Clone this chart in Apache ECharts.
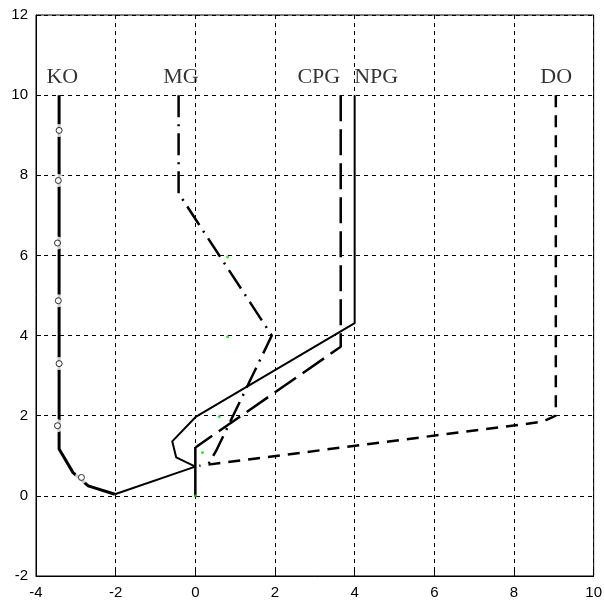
<!DOCTYPE html>
<html><head><meta charset="utf-8">
<script src="https://cdn.jsdelivr.net/npm/echarts@6/dist/echarts.min.js"></script>
<style>html,body{margin:0;padding:0;background:#fff}#c{width:605px;height:601px}</style>
</head><body><div id="c"></div>
<script>
// Paths (x, y)
const koPath = [[-3.42,10],[-3.42,1.17],[-3.07,0.58],[-2.69,0.25],[-2.02,0.04]];
const koMarkers = [[-3.42,9.12],[-3.44,7.87],[-3.46,6.31],[-3.44,4.87],[-3.42,3.3],[-3.46,1.75],[-2.86,0.46]];
const mgPath = [[-0.42,10],[-0.42,7.55],[1.92,4.0],[0.52,1.12],[0.32,0.78]];
const cpgPath = [[3.65,10],[3.65,3.72],[0.02,1.22],[0,1.22]];
const stemPath = [[0,1.22],[0,0]];
const npgPath = [[4.0,10],[4.0,4.31],[0.02,1.98],[-0.58,1.36],[-0.48,0.96],[0,0.73],[-2.02,0.04]];
const doPath = [[9.05,10],[9.05,2.0],[8.72,1.85],[0.1,0.75]];
const greenDots = [[0,0],[0.81,5.96],[0.81,3.97],[0.6,1.98],[0.18,1.08]];
const labelNames = ['KO','MG','CPG','NPG','DO'];
const labelX = [-3.34,-0.36,3.1,4.54,9.06];
const labelY = [10.45,10.45,10.45,10.45,10.45];
const xTicks = [-4,-2,0,2,4,6,8,10];
const yTicks = [-2,0,2,4,6,8,10,12];

const chart = echarts.init(document.getElementById('c'));
const line = (name, data, type, width) => ({
  name, type:'line', data, symbol:'none', silent:true, animation:false,
  lineStyle:{color:'#000', width, type}, z:3
});
const labelData = labelNames.map((n,i)=>({name:n, value:[labelX[i], labelY[i]]}));
const axisLbl = {color:'#000', fontFamily:'Liberation Sans', fontSize:15};
const splitL = {show:true, lineStyle:{color:'#000', width:1, type:[4,4]}};
chart.setOption({
  animation:false,
  grid:{left:36, right:9, top:15, bottom:25, show:true, borderColor:'#000', borderWidth:1, backgroundColor:'#fff'},
  xAxis:{type:'value', min:xTicks[0], max:xTicks[xTicks.length-1], interval:2,
    axisLine:{show:true, onZero:false, lineStyle:{color:'#000'}},
    axisTick:{show:true, inside:true, length:5, lineStyle:{color:'#000'}},
    axisLabel:Object.assign({margin:9, showMinLabel:true, showMaxLabel:true}, axisLbl),
    splitLine:splitL},
  yAxis:{type:'value', min:yTicks[0], max:yTicks[yTicks.length-1], interval:2,
    axisLine:{show:true, onZero:false, lineStyle:{color:'#000'}},
    axisTick:{show:true, inside:true, length:5, lineStyle:{color:'#000'}},
    axisLabel:Object.assign({margin:8, showMinLabel:true, showMaxLabel:true}, axisLbl),
    splitLine:splitL},
  series:[
    line('KO', koPath, 'solid', 3),
    {type:'scatter', data:koMarkers, symbol:'circle', symbolSize:13, silent:true,
      itemStyle:{color:'#fff', borderWidth:0}, z:4},
    {type:'scatter', data:koMarkers, symbol:'circle', symbolSize:6, silent:true,
      itemStyle:{color:'#fff', borderColor:'#000', borderWidth:1}, z:5},
    line('MG', mgPath, [22,7,2,7], 2.5),
    line('CPG', cpgPath, [26,8], 2.5),
    line('stem', stemPath, 'solid', 2.5),
    line('NPG', npgPath, 'solid', 2),
    line('DO', doPath, [12,8], 2.5),
    {type:'scatter', data:greenDots, symbol:'circle', symbolSize:3, silent:true,
      itemStyle:{color:'#00e000'}, z:6},
    {type:'scatter', data:labelData, symbolSize:0, silent:true, z:7,
      label:{show:true, position:'inside', formatter:'{b}', color:'#000',
        fontFamily:'Liberation Serif', fontSize:22}}
  ]
});
</script></body></html>
